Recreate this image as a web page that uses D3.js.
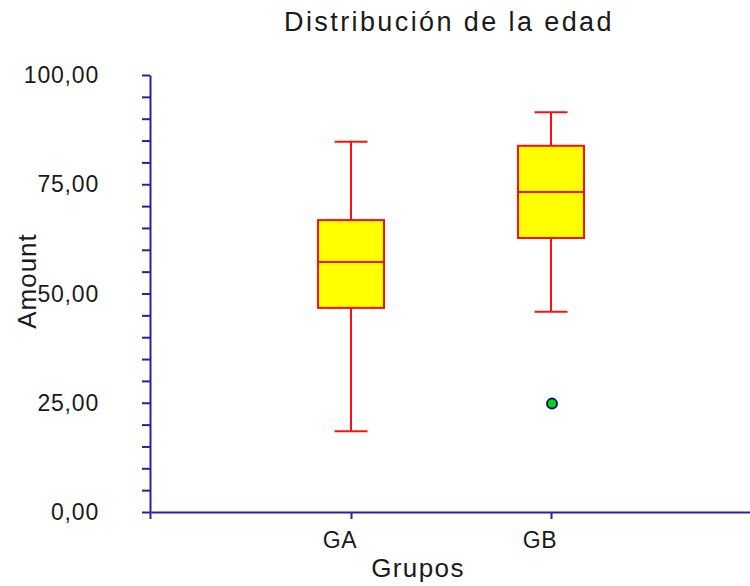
<!DOCTYPE html>
<html>
<head>
<meta charset="utf-8">
<script src="https://cdn.jsdelivr.net/npm/d3@7"></script>
<style>
  body { margin: 0; background: #fff; }
  text { font-family: "Liberation Sans", Arial, sans-serif; fill: #1a1a1a; }
</style>
</head>
<body>
<svg id="chart" width="750" height="586"></svg>
<script>
// data
var groups = ["GA", "GB"];
var mins = [18.5, 45.8];
var q1s = [46.7, 62.7];
var medians = [57.2, 73.2];
var q3s = [66.8, 83.8];
var maxs = [84.7, 91.5];
var outlierGroups = ["GB"];
var outlierValues = [24.8];
var yTicks = [0, 25, 50, 75, 100];

var title = "Distribución de la edad";
var xTitle = "Grupos";
var yTitle = "Amount";

var svg = d3.select("#chart");
var axisColor = "#2424a0";

var x = d3.scaleLinear().domain([0, 3]).range([151, 751]);
var y = d3.scaleLinear().domain([0, 100]).range([512, 75]);

var es = d3.formatLocale({ decimal: ",", thousands: ".", grouping: [3], currency: ["", ""] });
var fmt = es.format(".2f");

//y axis
var yAxis = svg
  .append("g")
  .attr("transform", "translate(150,0)")
  .call(
    d3.axisLeft(y)
      .tickValues(d3.range(0, 101, 5))
      .tickSize(8)
      .tickSizeOuter(0)
      .tickFormat("")
  );
yAxis.selectAll("path, line").attr("stroke", axisColor).attr("stroke-width", 2);

svg
  .selectAll(".ylab")
  .data(yTicks)
  .enter()
  .append("text")
  .attr("class", "ylab")
  .attr("x", 99)
  .attr("y", d => y(d))
  .attr("dy", "0.35em")
  .attr("text-anchor", "end")
  .style("font-size", "23px")
  .style("letter-spacing", "0.8px")
  .text(d => fmt(d));

//x axis
var xAxis = svg
  .append("g")
  .attr("transform", "translate(0,512)")
  .call(
    d3.axisBottom(x)
      .tickValues([0, 1, 2, 3])
      .tickSize(7)
      .tickSizeOuter(0)
      .tickFormat("")
  );
xAxis.selectAll("path, line").attr("stroke", axisColor).attr("stroke-width", 2);
xAxis.select(".tick line").attr("transform", "translate(-1,0)");

svg
  .selectAll(".xlab")
  .data(groups)
  .enter()
  .append("text")
  .attr("class", "xlab")
  .attr("x", (d, i) => x(i + 1) - 11)
  .attr("y", 548)
  .attr("text-anchor", "middle")
  .style("font-size", "23px")
  .style("letter-spacing", "0.6px")
  .text(d => d);

// boxes
var boxW = 66;
var box = svg
  .selectAll(".box")
  .data(groups)
  .enter()
  .append("g")
  .attr("class", "box");

box
  .append("line")
  .attr("x1", (d, i) => x(i + 1))
  .attr("x2", (d, i) => x(i + 1))
  .attr("y1", (d, i) => y(maxs[i]))
  .attr("y2", (d, i) => y(mins[i]));

box
  .append("line")
  .attr("x1", (d, i) => x(i + 1) - boxW / 4)
  .attr("x2", (d, i) => x(i + 1) + boxW / 4)
  .attr("y1", (d, i) => y(maxs[i]))
  .attr("y2", (d, i) => y(maxs[i]));

box
  .append("line")
  .attr("x1", (d, i) => x(i + 1) - boxW / 4)
  .attr("x2", (d, i) => x(i + 1) + boxW / 4)
  .attr("y1", (d, i) => y(mins[i]))
  .attr("y2", (d, i) => y(mins[i]));

box
  .append("rect")
  .attr("x", (d, i) => x(i + 1) - boxW / 2)
  .attr("y", (d, i) => y(q3s[i]))
  .attr("width", boxW)
  .attr("height", (d, i) => y(q1s[i]) - y(q3s[i]))
  .attr("fill", "#ffff00");

box
  .append("line")
  .attr("x1", (d, i) => x(i + 1) - boxW / 2)
  .attr("x2", (d, i) => x(i + 1) + boxW / 2)
  .attr("y1", (d, i) => y(medians[i]))
  .attr("y2", (d, i) => y(medians[i]));

box.selectAll("line, rect").attr("stroke", "#ff1010").attr("stroke-width", 2);

// outliers
svg
  .selectAll(".outlier")
  .data(outlierValues)
  .enter()
  .append("circle")
  .attr("class", "outlier")
  .attr("cx", (d, i) => x(groups.indexOf(outlierGroups[i]) + 1) + 1)
  .attr("cy", d => y(d))
  .attr("r", 5)
  .attr("fill", "#00e000")
  .attr("stroke", "#101080")
  .attr("stroke-width", 2);

// titles
svg
  .append("text")
  .attr("x", 449)
  .attr("y", 31)
  .attr("text-anchor", "middle")
  .style("font-size", "27px")
  .style("letter-spacing", "2.4px")
  .text(title);

svg
  .append("text")
  .attr("x", 418)
  .attr("y", 577)
  .attr("text-anchor", "middle")
  .style("font-size", "26px")
  .style("letter-spacing", "1.4px")
  .text(xTitle);

svg
  .append("text")
  .attr("transform", "translate(36,281) rotate(-90)")
  .attr("text-anchor", "middle")
  .style("font-size", "26px")
  .style("letter-spacing", "1px")
  .text(yTitle);
</script>
</body>
</html>
